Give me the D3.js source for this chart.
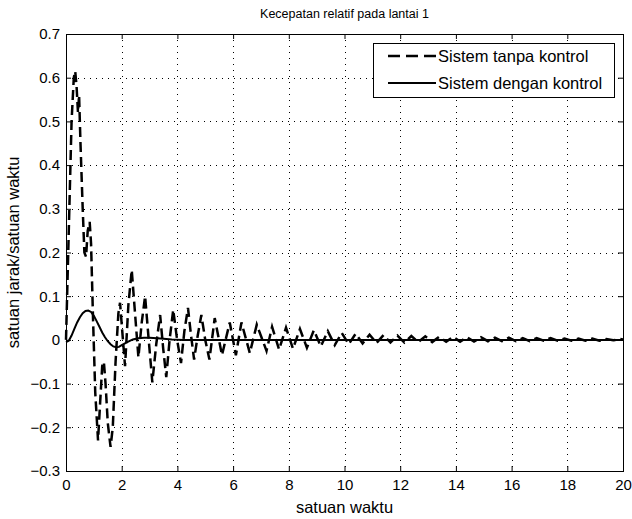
<!DOCTYPE html>
<html>
<head>
<meta charset="utf-8">
<script src="https://cdn.jsdelivr.net/npm/d3@7"></script>
<style>
  body { margin: 0; background: #fff; }
  svg { display: block; font-family: "Liberation Sans", Arial, sans-serif; }
  .tick line { stroke: #000; }
  .domain { display: none; }
</style>
</head>
<body>
<div id="chart"></div>
<script>
// time values (satuan waktu) and response of the uncontrolled system
var tanpaT = [0, 0.08, 0.2, 0.28, 0.33, 0.38, 0.43, 0.47, 0.52, 0.6, 0.66, 0.72, 0.78, 0.85, 0.9, 0.97,
	1.05, 1.15, 1.22, 1.3, 1.36, 1.42, 1.5, 1.6, 1.68, 1.78, 1.88, 1.94, 2.02, 2.12, 2.24, 2.36, 2.48,
	2.6, 2.72, 2.84, 2.97, 3.1, 3.24, 3.38, 3.49, 3.6, 3.72, 3.85, 3.99, 4.13, 4.25, 4.38, 4.49, 4.6,
	4.73, 4.86, 5.0, 5.15, 5.34, 5.6, 5.88, 6.1, 6.3, 6.6, 6.85, 7.2, 7.4, 7.65, 7.9, 8.15, 8.4, 8.65,
	8.9, 9.15, 9.4, 9.65, 9.9, 10.15, 10.4, 10.65, 10.9, 11.15, 11.4, 11.65, 11.9, 12.15, 12.4, 12.65,
	12.9, 13.15, 13.4, 13.65, 13.9, 14.15, 14.4, 14.65, 14.9, 15.15, 15.4, 15.65, 15.9, 16.15, 16.4,
	16.65, 16.9, 17.15, 17.4, 17.65, 17.9, 18.15, 18.4, 18.65, 18.9, 19.15, 19.4, 19.65, 19.9, 20];
var tanpaV = [0, 0.2, 0.5, 0.6, 0.615, 0.58, 0.52, 0.56, 0.45, 0.3, 0.2, 0.19, 0.25, 0.27, 0.22, 0.05,
	-0.12, -0.23, -0.15, -0.06, -0.05, -0.1, -0.19, -0.245, -0.2, -0.05, 0.06, 0.085, 0.02, -0.06, 0.08, 0.16, 0.06,
	-0.04, 0.04, 0.10, 0.0, -0.097, -0.01, 0.057, -0.02, -0.085, 0.0, 0.069, 0.0, -0.053, 0.02, 0.073, 0.01, -0.045,
	0.01, 0.057, 0.0, -0.045, 0.05, -0.035, 0.04, -0.035, 0.04, -0.03, 0.035, -0.025, 0.03, -0.022, 0.028, -0.02, 0.025, -0.018,
	0.022, -0.015, 0.02, -0.012, 0.016, -0.01, 0.014, -0.008, 0.012, -0.007, 0.011, -0.006, 0.01, -0.006, 0.009, -0.005,
	0.008, -0.005, 0.007, -0.004, 0.007, -0.004, 0.006, -0.004, 0.006, -0.003, 0.005, -0.003, 0.005, -0.003, 0.004,
	-0.003, 0.004, -0.002, 0.004, -0.002, 0.003, -0.002, 0.003, -0.002, 0.003, -0.002, 0.002, -0.001, 0.002, 0.001];

// response of the controlled system
var denganT = [0, 0.1, 0.2, 0.3, 0.4, 0.5, 0.6, 0.7, 0.8, 0.9, 1.0, 1.1, 1.2, 1.3, 1.4, 1.5, 1.6, 1.7, 1.8,
	1.9, 2.0, 2.2, 2.4, 2.6, 2.8, 3.0, 3.4, 3.8, 4.2, 20];
var denganV = [-0.005, -0.002, 0.01, 0.025, 0.04, 0.052, 0.061, 0.066, 0.067, 0.064, 0.055, 0.043, 0.03, 0.017,
	0.006, -0.003, -0.01, -0.015, -0.017, -0.016, -0.012, -0.005, 0.001, 0.004, 0.005, 0.005, 0.003, 0.001, 0, 0];

var xTicks = [0, 2, 4, 6, 8, 10, 12, 14, 16, 18, 20];
var yTicks = [-0.3, -0.2, -0.1, 0, 0.1, 0.2, 0.3, 0.4, 0.5, 0.6, 0.7];
var legendLabels = ["Sistem tanpa kontrol", "Sistem dengan kontrol"];

var chartWidth = 632,
	chartHeight = 519,
	margin = { top: 34, right: 9, bottom: 48, left: 66 },
	width = chartWidth - margin.left - margin.right,
	height = chartHeight - margin.top - margin.bottom,
	tickLen = 5,
	fontSize = 15;

var x = d3.scaleLinear().domain([0, 20]).range([0, width]);
var y = d3.scaleLinear().domain([-0.3, 0.7]).range([height, 0]);

var svg = d3.select("#chart")
	.append("svg")
	.attr("width", chartWidth)
	.attr("height", chartHeight);

var g = svg.append("g")
	.attr("transform", "translate(" + margin.left + "," + margin.top + ")");

// dotted grid
g.append("g")
	.selectAll("line")
	.data(xTicks.slice(1, -1))
	.enter().append("line")
	.attr("x1", function(d) { return Math.round(x(d)) + 0.5; })
	.attr("x2", function(d) { return Math.round(x(d)) + 0.5; })
	.attr("y1", 0)
	.attr("y2", height)
	.attr("stroke", "#000")
	.attr("stroke-dasharray", "1,5");
g.append("g")
	.selectAll("line")
	.data(yTicks.slice(1, -1))
	.enter().append("line")
	.attr("y1", function(d) { return Math.round(y(d)) + 0.5; })
	.attr("y2", function(d) { return Math.round(y(d)) + 0.5; })
	.attr("x1", 0)
	.attr("x2", width)
	.attr("stroke", "#000")
	.attr("stroke-dasharray", "1,5");

// axes with inward ticks
function styleAxis(sel) {
	sel.selectAll("text")
		.style("font-size", fontSize + "px")
		.style("font-family", "'Liberation Sans', Arial, sans-serif")
		.attr("fill", "#000");
}
g.append("g")
	.attr("transform", "translate(0," + height + ")")
	.call(d3.axisBottom(x).tickValues(xTicks).tickSize(-tickLen).tickPadding(8).tickFormat(d3.format("d")))
	.call(styleAxis);
g.append("g")
	.call(d3.axisTop(x).tickValues(xTicks).tickSize(-tickLen).tickFormat(""));
g.append("g")
	.call(d3.axisLeft(y).tickValues(yTicks).tickSize(-tickLen).tickPadding(6).tickFormat(function(d) {
		return d === 0 ? "0" : d3.format(".1f")(d);
	}))
	.call(styleAxis);
g.append("g")
	.attr("transform", "translate(" + width + ",0)")
	.call(d3.axisRight(y).tickValues(yTicks).tickSize(-tickLen).tickFormat(""));

// axes box
g.append("rect")
	.attr("x", 0.5)
	.attr("y", 0.5)
	.attr("width", width)
	.attr("height", height)
	.attr("fill", "none")
	.attr("stroke", "#000");

// series
var line = d3.line()
	.x(function(d) { return x(d[0]); })
	.y(function(d) { return y(d[1]); });

var tanpa = d3.zip(tanpaT, tanpaV),
	dengan = d3.zip(denganT, denganV);

g.append("path")
	.datum(dengan)
	.attr("d", line)
	.attr("fill", "none")
	.attr("stroke", "#000")
	.attr("stroke-width", 2);

g.append("path")
	.datum(tanpa)
	.attr("d", line)
	.attr("fill", "none")
	.attr("stroke", "#000")
	.attr("stroke-width", 2.5)
	.attr("stroke-dasharray", "10,5");

// legend
var legend = g.append("g")
	.attr("transform", "translate(" + (307) + "," + (9) + ")");
legend.append("rect")
	.attr("x", 0.5)
	.attr("y", 0.5)
	.attr("width", 241)
	.attr("height", 54)
	.attr("fill", "#fff")
	.attr("stroke", "#000");
legendLabels.forEach(function(label, i) {
	var ly = 13 + i * 27;
	legend.append("line")
		.attr("x1", 15)
		.attr("x2", 63)
		.attr("y1", ly)
		.attr("y2", ly)
		.attr("stroke", "#000")
		.attr("stroke-width", i === 0 ? 2.5 : 2)
		.attr("stroke-dasharray", i === 0 ? "12,6" : null);
	legend.append("text")
		.attr("x", 65)
		.attr("y", ly + 6)
		.style("font-size", "16.5px")
		.text(label);
});

// title and labels
svg.append("text")
	.attr("x", margin.left + width / 2)
	.attr("y", 18)
	.attr("text-anchor", "middle")
	.style("font-size", "12.5px")
	.text("Kecepatan relatif pada lantai 1");
svg.append("text")
	.attr("x", margin.left + width / 2)
	.attr("y", 513)
	.attr("text-anchor", "middle")
	.style("font-size", "16.5px")
	.text("satuan waktu");
svg.append("text")
	.attr("transform", "translate(19," + (margin.top + height / 2) + ") rotate(-90)")
	.attr("text-anchor", "middle")
	.style("font-size", "16.5px")
	.text("satuan jarak/satuan waktu");
</script>
</body>
</html>
